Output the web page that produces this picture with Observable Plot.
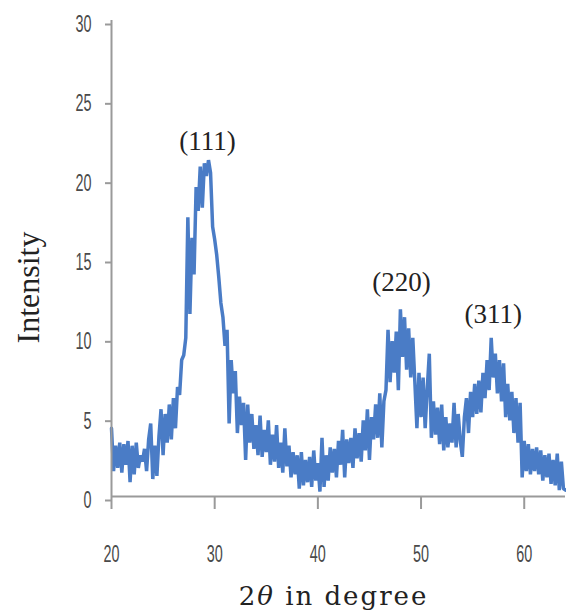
<!DOCTYPE html>
<html>
<head>
<meta charset="utf-8">
<script src="https://cdn.jsdelivr.net/npm/d3@7"></script>
<script src="https://cdn.jsdelivr.net/npm/@observablehq/plot@0.6"></script>
<style>
  html, body { margin: 0; padding: 0; background: #fff; }
</style>
</head>
<body>
<div id="chart"></div>
<script>
// 2θ sampling grid (degrees)
const angleStart = 20.0;
const angleStep = 0.2;
// Intensity, one value per grid step (20.0 … 64.0)
const intensity = [
  4.3, 1.6, 3.2, 1.8, 3.4, 1.5, 3.3, 2.0, 3.5, 0.9,
  3.2, 1.4, 3.4, 1.8, 2.6, 2.2, 3.0, 1.6, 3.6, 4.6,
  1.1, 3.2, 1.3, 3.8, 5.5, 2.6, 5.2, 3.4, 5.8, 3.6,
  6.2, 4.3, 6.9, 6.4, 8.6, 8.9, 10.0, 17.6, 11.5, 16.3,
  14.0, 19.5, 18.0, 20.8, 18.2, 21.0, 20.2, 21.2, 20.4, 17.0,
  16.2, 15.2, 13.8, 12.2, 11.3, 9.5, 10.5, 4.6, 8.6, 6.5,
  7.9, 4.0, 6.3, 4.5, 5.9, 2.3, 5.8, 3.4, 5.2, 3.0,
  4.5, 2.6, 5.1, 2.5, 4.2, 2.8, 4.8, 2.0, 3.9, 2.2,
  4.5, 1.8, 3.4, 1.5, 4.3, 1.9, 3.2, 1.2, 2.8, 1.4,
  2.6, 0.5, 2.8, 0.7, 2.3, 0.9, 2.5, 0.6, 2.9, 1.0,
  2.1, 0.3, 3.7, 0.6, 2.6, 1.0, 3.1, 1.5, 3.0, 1.2,
  3.5, 2.0, 4.2, 1.2, 3.6, 2.1, 3.7, 1.8, 4.3, 2.4,
  4.0, 2.2, 4.8, 2.9, 5.5, 2.3, 5.0, 3.6, 5.8, 3.7,
  6.5, 3.1, 6.0, 6.7, 10.5, 7.2, 9.8, 7.8, 10.4, 6.7,
  11.8, 8.8, 11.3, 8.0, 10.6, 7.5, 10.0, 7.2, 4.3, 7.8,
  5.0, 7.5, 4.3, 6.8, 9.0, 3.7, 6.0, 3.9, 5.6, 3.3,
  5.8, 2.9, 5.0, 3.1, 4.6, 3.4, 5.9, 3.1, 5.2, 3.5,
  2.5, 5.0, 6.2, 4.0, 6.6, 5.0, 7.1, 5.2, 7.3, 5.3,
  7.8, 6.2, 8.6, 6.7, 10.0, 7.5, 9.0, 6.5, 8.6, 6.0,
  8.4, 5.0, 7.1, 4.8, 6.6, 4.0, 6.2, 3.4, 5.9, 1.2,
  3.5, 1.6, 3.3, 1.4, 3.0, 1.6, 3.1, 1.4, 2.9, 1.0,
  2.6, 1.2, 2.7, 0.8, 2.3, 0.7, 2.7, 0.4, 2.2, 0.5,
  0.4
];
const xTicks = [20, 30, 40, 50, 60];
const yTicks = [0, 5, 10, 15, 20, 25, 30];
const peakLabels = ["(111)", "(220)", "(311)"];
const peakX = [29.3, 48.1, 57.0];
const peakY = [22.4, 13.5, 11.5];
const xTitle = "2θ in degree";
const yTitle = "Intensity";

const data = intensity.map((v, i) => ({ angle: +(angleStart + i * angleStep).toFixed(2), value: v }));
const peaks = peakLabels.map((t, i) => ({ label: t, x: peakX[i], y: peakY[i] }));

const serif = "'Liberation Serif', 'DejaVu Serif', serif";
const wideSerif = "'DejaVu Serif', 'Liberation Serif', serif";
const sans = "'Liberation Sans', 'DejaVu Sans', sans-serif";

const chart = Plot.plot({
  width: 566,
  height: 614,
  marginLeft: 111,
  marginRight: 1,
  marginTop: 20,
  marginBottom: 118,
  style: { background: "#fff", overflow: "visible" },
  x: { domain: [20, 64], ticks: xTicks },
  y: { domain: [0, 30], ticks: yTicks },
  marks: [
    Plot.line(data, { x: "angle", y: "value", stroke: "#4a7cc6", strokeWidth: 3.5, strokeLinejoin: "miter" }),
    Plot.ruleY([0], { stroke: "#9a9a9a", strokeWidth: 2 }),
    Plot.ruleX([20], { stroke: "#9a9a9a", strokeWidth: 2 }),
    Plot.axisX({ ticks: xTicks, tickSize: 13, tickPadding: 36, stroke: "#9a9a9a", strokeWidth: 2,
      fontSize: 18, fontFamily: sans, fill: "#4a4a4a", label: null, tickFormat: d => String(d), className: "tickx" }),
    Plot.axisY({ ticks: yTicks, tickSize: 6, tickPadding: 14, stroke: "#9a9a9a", strokeWidth: 2,
      fontSize: 18, fontFamily: sans, fill: "#4a4a4a", label: null, dy: 4, tickFormat: d => String(d), className: "ticky" }),
    Plot.text(peaks, { x: "x", y: "y", text: "label", fontSize: 27, fontFamily: serif, fill: "#222" }),
    Plot.text([xTitle], { frameAnchor: "bottom", lineAnchor: "middle", textAnchor: "middle", dx: -5, dy: 100, fontSize: 26, fontFamily: wideSerif, fill: "#222", className: "xtitle" }),
    Plot.text([yTitle], { frameAnchor: "left", lineAnchor: "middle", textAnchor: "middle", dx: -83, dy: 29, rotate: -90, fontSize: 32, fontFamily: serif, fill: "#222" })
  ]
});

// condensed, tall tick labels like the reference
d3.select(chart).selectAll("g.tickx text, g.ticky text").each(function () {
  const t = d3.select(this);
  const tr = t.attr("transform") || "";
  t.attr("transform", tr + " scale(0.8,1.3)");
});

// italicise θ in the x-axis title, and space it out like the reference
d3.select(chart).selectAll("g.xtitle text").each(function () {
  const t = d3.select(this);
  t.attr("letter-spacing", "2px");
  const s = t.text();
  const i = s.indexOf("θ");
  if (i >= 0) {
    t.text(null);
    t.append("tspan").text(s.slice(0, i));
    t.append("tspan").attr("font-style", "italic").text("θ");
    t.append("tspan").text(s.slice(i + 1));
  }
});

document.getElementById("chart").appendChild(chart);
</script>
</body>
</html>
